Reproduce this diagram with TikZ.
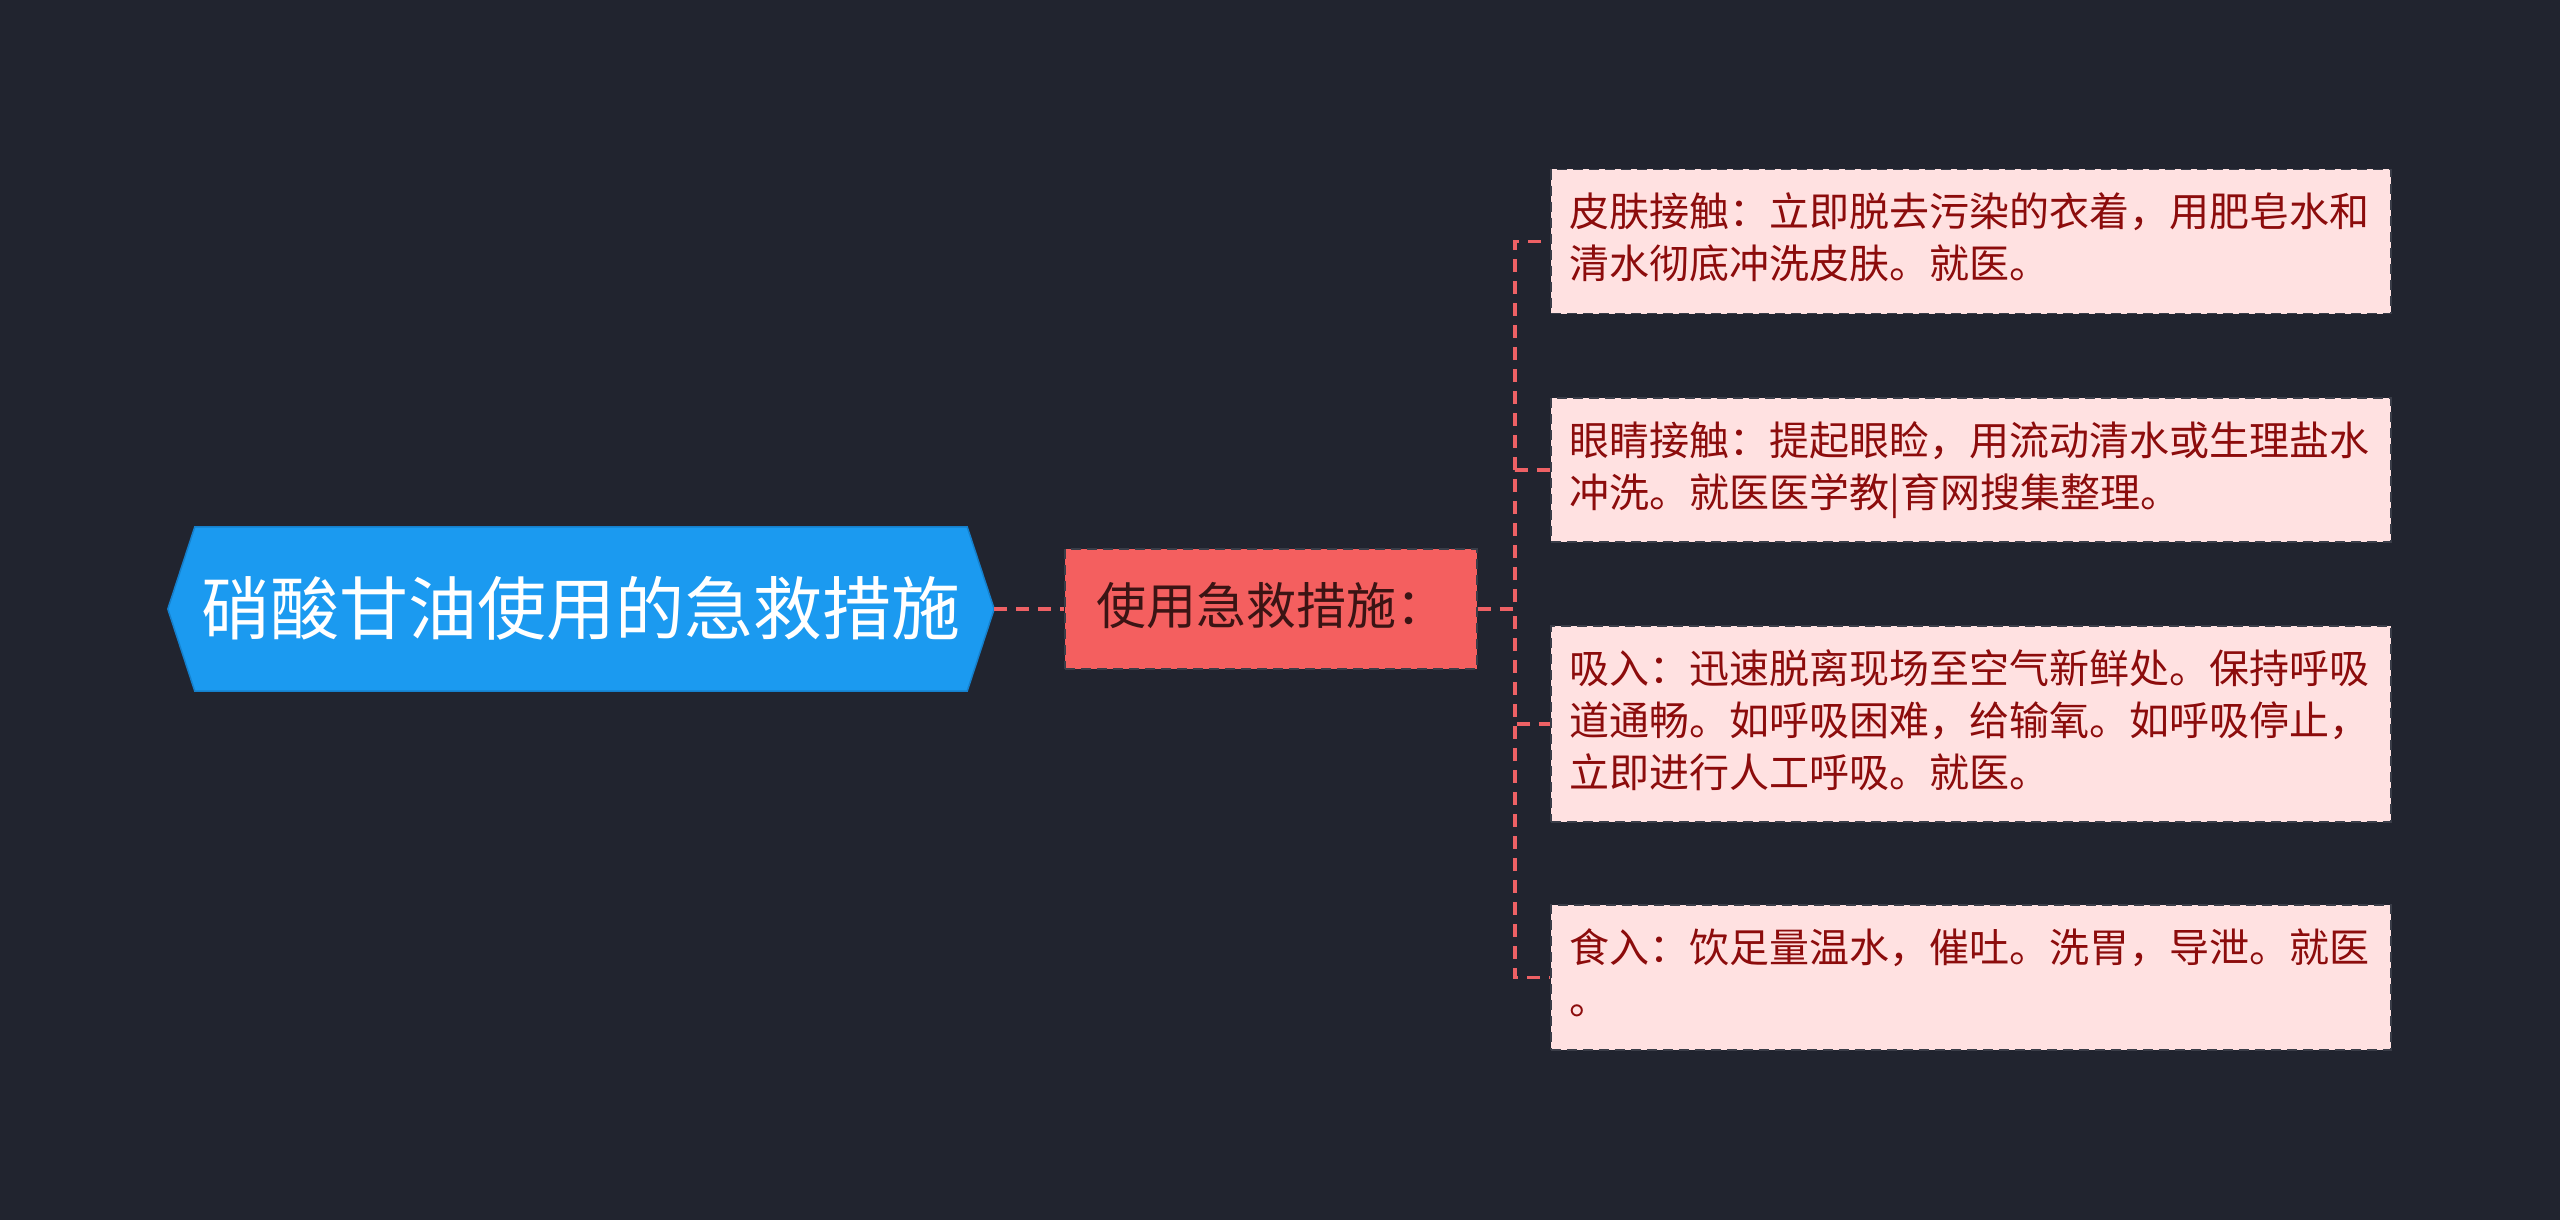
\documentclass[tikz,border=0pt]{standalone}
\usepackage{fontspec}
\setmainfont{Noto Sans CJK SC}
\usetikzlibrary{backgrounds}
\definecolor{bgc}{HTML}{21242F}
\definecolor{rootc}{HTML}{1B9AF0}
\definecolor{rootd}{HTML}{1580CC}
\definecolor{midc}{HTML}{F45F5F}
\definecolor{midt}{HTML}{3B1414}
\definecolor{leafc}{HTML}{FFE1E1}
\definecolor{leaft}{HTML}{8C0C0C}
\definecolor{edgec}{HTML}{3A3D48}
\definecolor{connc}{HTML}{EE6165}
\newcommand\lstrut{\rule[-11pt]{0pt}{41pt}}
\tikzset{
  rootnode/.style={minimum width=826pt, minimum height=164pt, inner sep=0pt, text=white,
    font=\fontsize{69}{80}\selectfont},
  rootshape/.style={fill=rootc, draw=rootd, line width=1.5pt},
  midnode/.style={minimum width=412pt, minimum height=120pt, inner sep=0pt, fill=midc,
    draw=edgec, line width=1.5pt, dash pattern=on 10pt off 6pt, text=midt,
    font=\fontsize{50}{60}\selectfont},
  leafnode/.style={anchor=west, text width=802pt, align=left, inner xsep=19pt, inner ysep=0pt,
    minimum width=840pt,
    fill=leafc, draw=edgec, line width=1.5pt, dash pattern=on 10pt off 6pt, text=leaft,
    font=\fontsize{40}{52}\selectfont},
  conn/.style={draw=connc, line width=3.5pt, dash pattern=on 13pt off 9pt}
}
\begin{document}
\begin{tikzpicture}[x=1pt,y=-1pt]
\begin{scope}[on background layer]
\fill[bgc] (0,0) rectangle (2560,1220);
\end{scope}
\useasboundingbox (0,0) rectangle (2560,1220);

\node[rootnode] (root) at (581,609) {\rule[-8pt]{0pt}{61pt}硝酸甘油使用的急救措施};
\begin{scope}[on background layer]
\path[rootshape] (root.west) -- ([xshift=27pt]root.north west) -- ([xshift=-27pt]root.north east)
  -- (root.east) -- ([xshift=-27pt]root.south east) -- ([xshift=27pt]root.south west) -- cycle;
\end{scope}

\node[midnode] (mid) at (1271,609) {\rule[-11pt]{0pt}{49pt}使用急救措施：};

\node[leafnode, minimum height=144pt] (leaf1) at (1550,241.5) {\lstrut 皮肤接触：立即脱去污染的衣着，用肥皂水和\\\lstrut 清水彻底冲洗皮肤。就医。};
\node[leafnode, minimum height=144pt] (leaf2) at (1550,470) {\lstrut 眼睛接触：提起眼睑，用流动清水或生理盐水\\\lstrut 冲洗。就医医学教|育网搜集整理。};
\node[leafnode, minimum height=196pt] (leaf3) at (1550,724) {\lstrut 吸入：迅速脱离现场至空气新鲜处。保持呼吸\\\lstrut 道通畅。如呼吸困难，给输氧。如呼吸停止，\\\lstrut 立即进行人工呼吸。就医。};
\node[leafnode, minimum height=145pt] (leaf4) at (1550,977.5) {\lstrut 食入：饮足量温水，催吐。洗胃，导泄。就医\\\lstrut 。};

\coordinate (jn) at ([xshift=37pt]mid.east);
\draw[conn] (root.east) -- (mid.west);
\draw[conn] (mid.east) -- (jn) |- (leaf1.west);
\draw[conn] (mid.east) -- (jn) |- (leaf2.west);
\draw[conn] (mid.east) -- (jn) |- (leaf3.west);
\draw[conn] (mid.east) -- (jn) |- (leaf4.west);
\end{tikzpicture}
\end{document}
